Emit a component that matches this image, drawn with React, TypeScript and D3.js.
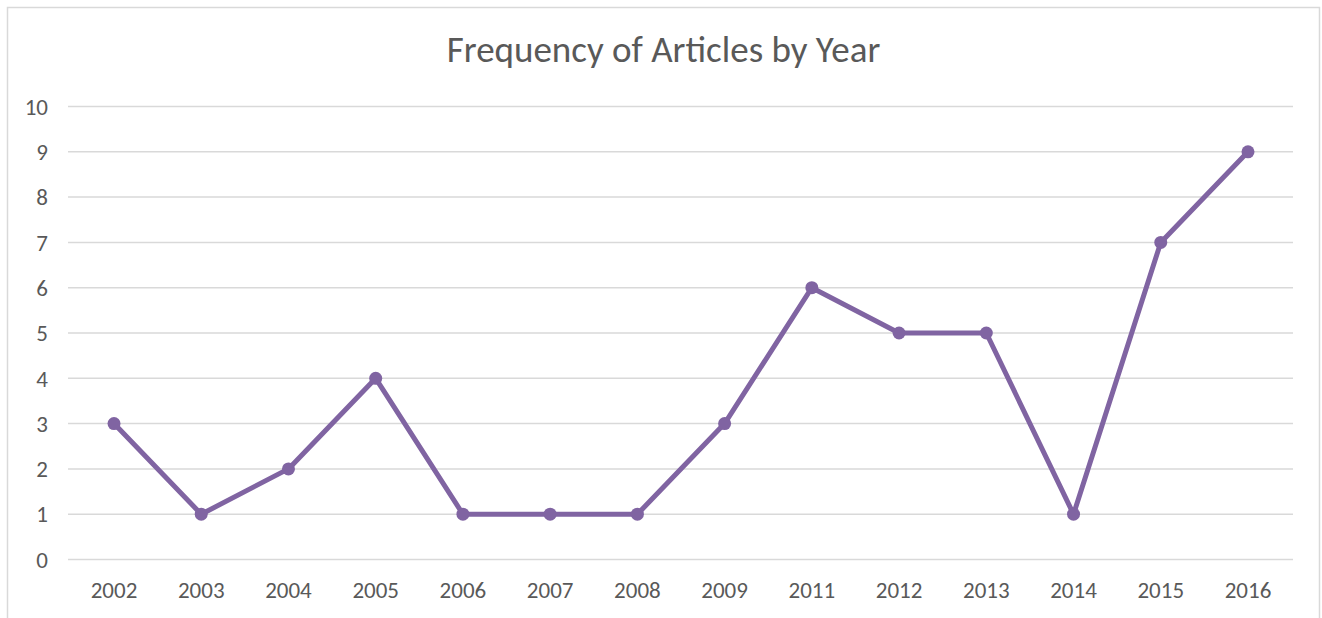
import React from "react";
import * as d3 from "d3";

const years = ["2002", "2003", "2004", "2005", "2006", "2007", "2008", "2009", "2011", "2012", "2013", "2014", "2015", "2016"];
const articleCounts = [3, 1, 2, 4, 1, 1, 1, 3, 6, 5, 5, 1, 7, 9];
const yTicks = [0, 1, 2, 3, 4, 5, 6, 7, 8, 9, 10];
const chartTitle = "Frequency of Articles by Year";

const W = 1322;
const H = 618;
const FONT = "Carlito, Lato, 'Open Sans', sans-serif";
const TEXT = "#595959";
const GRID = "#d9d9d9";
const LINE = "#8064a2";

export default function App() {
  const gridLeft = 68;
  const gridRight = 1293;
  const yTop = 106.5;
  const yBottom = 559.5;

  const x = d3.scalePoint<string>().domain(years).range([70.4, 1291.6]).padding(0.5);
  const y = d3.scaleLinear().domain([0, 10]).range([yBottom, yTop]);

  const line = d3
    .line<number>()
    .x((_, i) => x(years[i]) as number)
    .y((d) => y(d));

  return (
    <svg
      width={W}
      height={H}
      style={{ position: "absolute", left: 0, top: 0, background: "#fff" }}
    >
      <rect x={7.5} y={7.5} width={1312} height={640} fill="#fff" stroke="#d9d9d9" strokeWidth={1.5} />
      <text x={663.5} y={62} textAnchor="middle" fontFamily={FONT} fontSize={37} fill={TEXT}>
        {chartTitle}
      </text>
      {yTicks.map((t) => (
        <g key={t}>
          <line x1={gridLeft} x2={gridRight} y1={y(t)} y2={y(t)} stroke={GRID} strokeWidth={1.5} />
          <text x={48} y={y(t)} dy="0.36em" textAnchor="end" fontFamily={FONT} fontSize={23} fill={TEXT}>
            {t}
          </text>
        </g>
      ))}
      {years.map((yr) => (
        <text key={yr} x={x(yr)} y={598} textAnchor="middle" fontFamily={FONT} fontSize={23} fill={TEXT}>
          {yr}
        </text>
      ))}
      <path d={line(articleCounts) || ""} fill="none" stroke={LINE} strokeWidth={5} strokeLinejoin="round" />
      {articleCounts.map((v, i) => (
        <circle key={years[i]} cx={x(years[i])} cy={y(v)} r={6.5} fill={LINE} />
      ))}
    </svg>
  );
}
